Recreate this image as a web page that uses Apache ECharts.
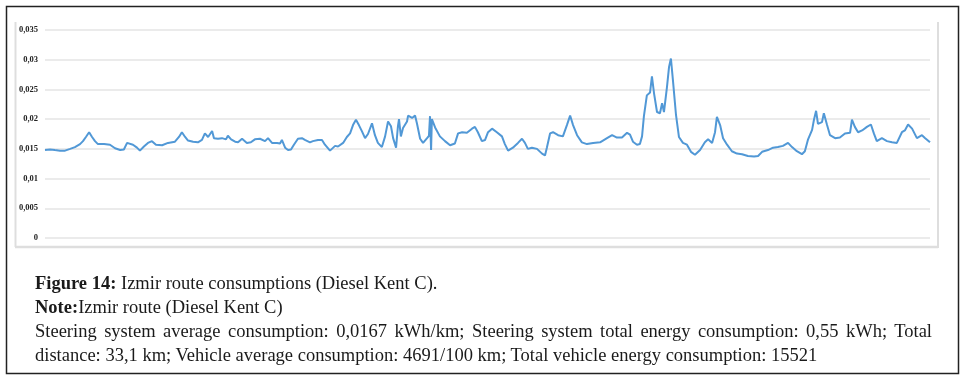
<!DOCTYPE html>
<html>
<head>
<meta charset="utf-8">
<script src="https://cdn.jsdelivr.net/npm/echarts@6/dist/echarts.min.js"></script>
<style>
  body { margin: 0; background: #fff; }
  #wrap { position: relative; width: 967px; height: 386px; }
  #chart { position: absolute; left: 0; top: 0; width: 967px; height: 386px; }
  #caption {
    position: absolute; left: 35px; top: 271px; width: 897px;
    font-family: 'Liberation Serif', serif; font-size: 18.5px; line-height: 24px; color: #1a1a1a;
  }
  #caption .just { text-align: justify; text-align-last: justify; }
  #caption b { font-weight: bold; }
</style>
</head>
<body>
<div id="wrap">
  <div id="chart"></div>
  <div id="caption">
    <div><b>Figure 14:</b> Izmir route consumptions (Diesel Kent C).</div>
    <div><b>Note:</b>Izmir route (Diesel Kent C)</div>
    <div class="just">Steering system average consumption: 0,0167 kWh/km; Steering system total energy consumption: 0,55 kWh; Total</div>
    <div>distance: 33,1 km; Vehicle average consumption: 4691/100 km; Total vehicle energy consumption: 15521</div>
  </div>
</div>
<script>
// distance along the route (km) and steering consumption (kWh/km)
var distance = [0, 0.19, 0.37, 0.56, 0.75, 0.94, 1.12, 1.31, 1.42, 1.53, 1.65, 1.76, 1.87, 1.98, 2.21, 2.43, 2.62, 2.81, 2.95, 3.07,
  3.29, 3.44, 3.55, 3.70, 3.85, 4.00, 4.15, 4.38, 4.60, 4.86, 5.01, 5.12, 5.24, 5.35, 5.54, 5.72, 5.87, 5.98, 6.10, 6.25,
  6.32, 6.47, 6.62, 6.77, 6.84, 6.96, 7.11, 7.22, 7.37, 7.55, 7.70, 7.85, 8.04, 8.23, 8.34, 8.49, 8.68, 8.79, 8.86, 8.98,
  9.09, 9.20, 9.31, 9.46, 9.61, 9.72, 9.91, 10.02, 10.21, 10.36, 10.47, 10.66, 10.85, 10.96, 11.15, 11.29, 11.41, 11.52, 11.63, 11.74,
  11.86, 11.97, 12.08, 12.23, 12.34, 12.45, 12.60, 12.72, 12.83, 12.94, 13.02, 13.13, 13.20, 13.24, 13.31, 13.39, 13.54, 13.58, 13.73, 13.84,
  13.91, 14.03, 14.14, 14.29, 14.36, 14.40, 14.44, 14.47, 14.59, 14.77, 14.96, 15.15, 15.33, 15.45, 15.60, 15.78, 15.97, 16.08, 16.19, 16.34,
  16.46, 16.57, 16.72, 16.90, 17.09, 17.20, 17.32, 17.50, 17.69, 17.84, 17.95, 18.06, 18.21, 18.40, 18.59, 18.70, 18.77, 18.89, 19.00, 19.19,
  19.37, 19.52, 19.64, 19.75, 19.90, 20.08, 20.27, 20.50, 20.76, 21.02, 21.21, 21.39, 21.58, 21.77, 21.88, 21.99, 22.14, 22.25, 22.33, 22.40,
  22.51, 22.63, 22.70, 22.78, 22.89, 23.00, 23.08, 23.15, 23.26, 23.34, 23.41, 23.49, 23.60, 23.71, 23.86, 24.01, 24.16, 24.31, 24.50, 24.68,
  24.80, 24.95, 25.06, 25.13, 25.25, 25.36, 25.51, 25.69, 25.88, 26.07, 26.29, 26.52, 26.67, 26.82, 27.04, 27.23, 27.41, 27.60, 27.79, 27.94,
  28.12, 28.31, 28.42, 28.54, 28.69, 28.76, 28.84, 28.91, 29.06, 29.13, 29.25, 29.36, 29.55, 29.73, 29.92, 30.11, 30.18, 30.29, 30.41, 30.56,
  30.74, 30.89, 31.00, 31.11, 31.30, 31.49, 31.68, 31.86, 32.05, 32.16, 32.28, 32.43, 32.61, 32.80, 32.92, 33.10];

var consumption = [0.0148, 0.0149, 0.0148, 0.0147, 0.0147, 0.0150, 0.0153, 0.0158, 0.0163, 0.0170, 0.0178, 0.0170, 0.0163, 0.0158, 0.0158, 0.0157, 0.0151, 0.0148, 0.0149, 0.0160,
  0.0157, 0.0152, 0.0147, 0.0154, 0.0160, 0.0163, 0.0157, 0.0156, 0.0160, 0.0162, 0.0170, 0.0178, 0.0170, 0.0164, 0.0162, 0.0161, 0.0165, 0.0176, 0.0170, 0.0180,
  0.0168, 0.0167, 0.0168, 0.0166, 0.0172, 0.0166, 0.0162, 0.0161, 0.0167, 0.0160, 0.0161, 0.0166, 0.0167, 0.0163, 0.0168, 0.0160, 0.0160, 0.0159, 0.0165, 0.0152,
  0.0148, 0.0149, 0.0157, 0.0167, 0.0168, 0.0165, 0.0161, 0.0163, 0.0165, 0.0165, 0.0157, 0.0147, 0.0155, 0.0154, 0.0160, 0.0170, 0.0176, 0.0190, 0.0199, 0.0190,
  0.0179, 0.0168, 0.0175, 0.0193, 0.0173, 0.0160, 0.0153, 0.0171, 0.0196, 0.0188, 0.0168, 0.0152, 0.0188, 0.0200, 0.0171, 0.0185, 0.0196, 0.0206, 0.0202, 0.0206,
  0.0193, 0.0167, 0.0160, 0.0168, 0.0172, 0.0205, 0.0148, 0.0200, 0.0186, 0.0171, 0.0163, 0.0156, 0.0159, 0.0176, 0.0178, 0.0177, 0.0184, 0.0187, 0.0178, 0.0163,
  0.0165, 0.0178, 0.0184, 0.0178, 0.0171, 0.0158, 0.0147, 0.0152, 0.0160, 0.0167, 0.0160, 0.0150, 0.0152, 0.0150, 0.0142, 0.0139, 0.0152, 0.0176, 0.0178, 0.0173,
  0.0171, 0.0190, 0.0206, 0.0190, 0.0173, 0.0161, 0.0158, 0.0160, 0.0161, 0.0168, 0.0173, 0.0169, 0.0169, 0.0177, 0.0174, 0.0162, 0.0157, 0.0158, 0.0171, 0.0205,
  0.0240, 0.0245, 0.0272, 0.0243, 0.0212, 0.0210, 0.0227, 0.0212, 0.0253, 0.0288, 0.0302, 0.0263, 0.0207, 0.0170, 0.0160, 0.0157, 0.0145, 0.0140, 0.0148, 0.0161,
  0.0166, 0.0160, 0.0178, 0.0204, 0.0190, 0.0168, 0.0157, 0.0146, 0.0142, 0.0141, 0.0138, 0.0137, 0.0138, 0.0145, 0.0148, 0.0152, 0.0153, 0.0155, 0.0160, 0.0153,
  0.0146, 0.0141, 0.0146, 0.0166, 0.0182, 0.0199, 0.0214, 0.0192, 0.0195, 0.0210, 0.0190, 0.0173, 0.0168, 0.0169, 0.0176, 0.0177, 0.0199, 0.0187, 0.0178, 0.0181,
  0.0187, 0.0191, 0.0176, 0.0163, 0.0168, 0.0163, 0.0161, 0.0160, 0.0178, 0.0181, 0.0191, 0.0184, 0.0168, 0.0173, 0.0168, 0.0161];

var yTicks = ['0', '0,005', '0,01', '0,015', '0,02', '0,025', '0,03', '0,035'];

function consumptionChart(){
	var chart = echarts.init(document.getElementById('chart'));

	var points = [];
	for (var i = 0; i < distance.length; i++) {
		points.push([distance[i], consumption[i]]);
	}

	var frameColor = '#dedede';

	var option = {
		animation: false,
		grid: {
			left: 45,
			right: 37,
			top: 30,
			bottom: 148
		},
		xAxis: {
			type: 'value',
			min: 0,
			max: 33.1,
			axisLine: { show: false },
			axisTick: { show: false },
			axisLabel: { show: false },
			splitLine: { show: false }
		},
		yAxis: {
			type: 'value',
			min: 0,
			max: 0.035,
			interval: 0.005,
			axisLine: { show: false },
			axisTick: { show: false },
			axisLabel: {
				margin: 7,
				fontFamily: 'Liberation Serif',
				fontWeight: 'bold',
				fontSize: 8.5,
				color: '#222',
				formatter: function (value) {
					return yTicks[Math.round(value / 0.005)];
				}
			},
			splitLine: {
				show: true,
				lineStyle: { color: '#e4e4e4', width: 1.5 }
			}
		},
		graphic: [
			{ type: 'rect', shape: { x: 6.5, y: 6.5, width: 952, height: 367 }, style: { fill: null, stroke: '#222', lineWidth: 1.5 }, silent: true },
			{ type: 'line', shape: { x1: 15.5, y1: 22, x2: 15.5, y2: 247 }, style: { stroke: frameColor, lineWidth: 2 }, silent: true },
			{ type: 'line', shape: { x1: 15, y1: 247, x2: 938, y2: 247 }, style: { stroke: frameColor, lineWidth: 2.5 }, silent: true },
			{ type: 'line', shape: { x1: 938, y1: 22, x2: 938, y2: 248 }, style: { stroke: frameColor, lineWidth: 2 }, silent: true }
		],
		series: [
			{
				name: 'Steering consumption',
				type: 'line',
				data: points,
				showSymbol: false,
				smooth: false,
				lineStyle: { color: '#5198d6', width: 2 }
			}
		]
	};

	chart.setOption(option);
}

consumptionChart();
</script>
</body>
</html>
